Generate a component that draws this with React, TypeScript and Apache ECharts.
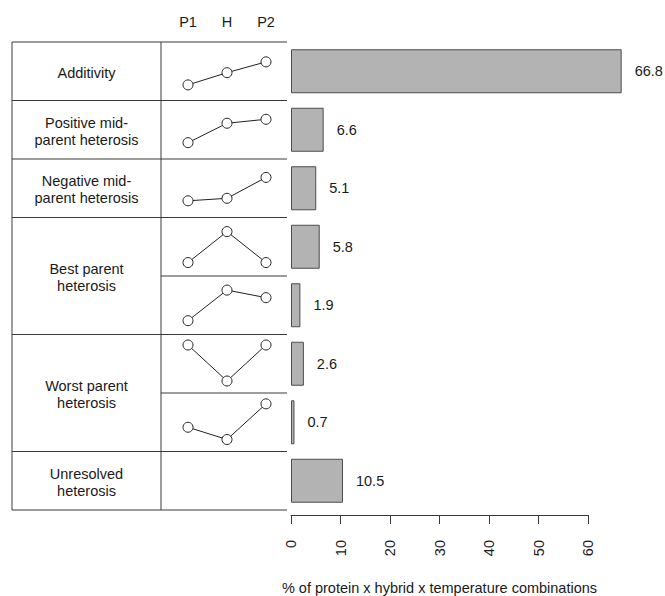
import React, { useEffect, useRef } from "react";
import * as echarts from "echarts";

const categories = [
  "Additivity",
  "Positive mid-\nparent heterosis",
  "Negative mid-\nparent heterosis",
  "Best parent heterosis (1)",
  "Best parent heterosis (2)",
  "Worst parent heterosis (1)",
  "Worst parent heterosis (2)",
  "Unresolved\nheterosis",
];
const percentages = [66.8, 6.6, 5.1, 5.8, 1.9, 2.6, 0.7, 10.5];

const profileLabels = ["P1", "H", "P2"];
// relative expression pattern (P1, H, P2) for each profile row
const profiles = [
  [1.0, 4.4, 7.4],
  [1.2, 6.6, 7.7],
  [1.3, 2.0, 7.8],
  [0.4, 9.0, 0.4],
  [0.5, 9.0, 6.9],
  [10.0, 0.0, 10.0],
  [3.4, 0.0, 9.9],
];

const groupLabels = [
  { text: "Additivity", rows: [0, 1] },
  { text: "Positive mid-\nparent heterosis", rows: [1, 2] },
  { text: "Negative mid-\nparent heterosis", rows: [2, 3] },
  { text: "Best parent\nheterosis", rows: [3, 5] },
  { text: "Worst parent\nheterosis", rows: [5, 7] },
  { text: "Unresolved\nheterosis", rows: [7, 8] },
];
const axisTitle = "% of protein x hybrid x temperature combinations";

const FONT = "'Liberation Sans', Arial, Helvetica, sans-serif";
const FS = 14.5;
const TOP = 42;
const ROW_H = 58.5;
const TABLE_LEFT = 12;
const COL_SPLIT = 161;
const TABLE_RIGHT = 287;
const LINE_COLOR = "#3a3a3a";
const TEXT_COLOR = "#1a1a1a";

export default function App() {
  const ref = useRef<HTMLDivElement>(null);

  useEffect(() => {
    if (!ref.current) return;
    const chart = echarts.init(ref.current, null, { renderer: "svg" });
    const rowTop = (k: number) => TOP + ROW_H * k;
    const nRows = categories.length;
    const pxPerUnit = 297 / 60;
    const barMax = 70;

    const grids: any[] = [
      { left: 291, top: TOP, width: barMax * pxPerUnit, height: ROW_H * nRows },
      { left: 291, top: 500, width: 60 * pxPerUnit, height: 24 },
    ];
    const xAxes: any[] = [
      { type: "value", gridIndex: 0, min: 0, max: barMax, show: false },
      {
        type: "value",
        gridIndex: 1,
        min: 0,
        max: 60,
        interval: 10,
        splitLine: { show: false },
        axisLine: { show: true, lineStyle: { color: LINE_COLOR, width: 1 } },
        axisTick: { show: true, inside: false, length: 9, lineStyle: { color: LINE_COLOR } },
        axisLabel: { rotate: 90, margin: 25, fontSize: FS, color: TEXT_COLOR, fontFamily: FONT },
        name: axisTitle,
        nameLocation: "middle",
        nameGap: 65,
        nameTextStyle: { fontSize: FS, color: TEXT_COLOR, fontFamily: FONT },
      },
    ];
    const yAxes: any[] = [
      { type: "category", gridIndex: 0, data: categories, inverse: true, show: false },
      { type: "value", gridIndex: 1, show: false },
    ];
    const series: any[] = [
      {
        type: "bar",
        xAxisIndex: 0,
        yAxisIndex: 0,
        data: percentages,
        barWidth: 44,
        itemStyle: { color: "#b3b3b3", borderColor: "#4d4d4d", borderWidth: 1 },
        label: {
          show: true,
          position: "right",
          distance: 13,
          fontSize: FS,
          color: TEXT_COLOR,
          fontFamily: FONT,
          formatter: (p: any) => Number(p.value).toFixed(1),
        },
      },
    ];

    profiles.forEach((vals, k) => {
      const gi = grids.length;
      grids.push({ left: 188, width: 78, top: rowTop(k) + 10.5, height: 36 });
      xAxes.push({
        type: "category",
        gridIndex: gi,
        data: profileLabels,
        boundaryGap: false,
        position: "top",
        axisLine: { show: false },
        axisTick: { show: false },
        splitLine: { show: false },
        axisLabel: {
          show: k === 0,
          margin: 23,
          fontSize: FS,
          color: TEXT_COLOR,
          fontFamily: FONT,
        },
      });
      yAxes.push({ type: "value", gridIndex: gi, min: 0, max: 10, show: false });
      series.push({
        type: "line",
        xAxisIndex: gi,
        yAxisIndex: gi,
        data: vals,
        symbol: "circle",
        symbolSize: 10,
        lineStyle: { color: "#222", width: 1 },
        itemStyle: { color: "#ffffff", borderColor: "#222", borderWidth: 1 },
        z: 3,
      });
    });

    const graphics: any[] = [];
    for (let k = 0; k <= nRows; k++) {
      const full = !(k === 4 || k === 6);
      graphics.push({
        type: "line",
        shape: { x1: full ? TABLE_LEFT : COL_SPLIT, y1: rowTop(k), x2: TABLE_RIGHT, y2: rowTop(k) },
        style: { stroke: LINE_COLOR, lineWidth: 1 },
        silent: true,
      });
    }
    [TABLE_LEFT, COL_SPLIT].forEach((x) =>
      graphics.push({
        type: "line",
        shape: { x1: x, y1: rowTop(0), x2: x, y2: rowTop(nRows) },
        style: { stroke: LINE_COLOR, lineWidth: 1 },
        silent: true,
      })
    );
    groupLabels.forEach((g) => {
      const cy = (rowTop(g.rows[0]) + rowTop(g.rows[1])) / 2 + 1.5;
      graphics.push({
        type: "text",
        x: (TABLE_LEFT + COL_SPLIT) / 2,
        y: cy,
        style: {
          text: g.text,
          fontSize: FS,
          lineHeight: 17,
          fontFamily: FONT,
          fill: TEXT_COLOR,
          align: "center",
          verticalAlign: "middle",
        },
        silent: true,
      });
    });

    chart.setOption({
      animation: false,
      backgroundColor: "#ffffff",
      grid: grids,
      xAxis: xAxes,
      yAxis: yAxes,
      series,
      graphic: graphics,
    });
    return () => chart.dispose();
  }, []);

  return (
    <div
      ref={ref}
      style={{ position: "absolute", left: 0, top: 0, width: 665, height: 596 }}
    />
  );
}
